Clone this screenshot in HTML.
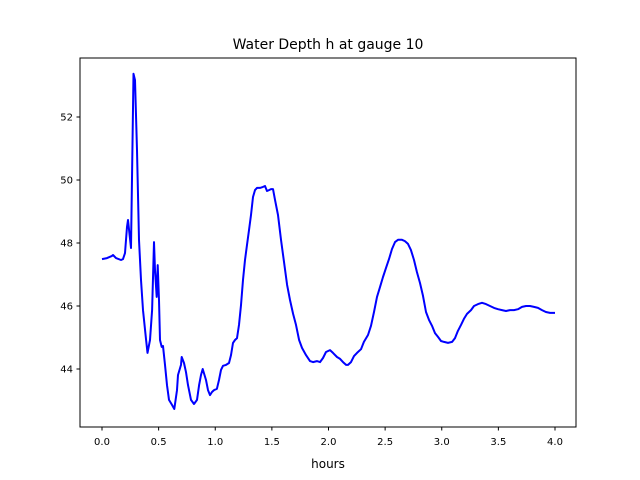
<!DOCTYPE html>
<html><head><meta charset="utf-8"><style>
body{margin:0;background:#fff;}
svg{display:block;font-family:"DejaVu Sans","Liberation Sans",sans-serif;}
</style></head><body>
<svg id="chart" width="640" height="480" viewBox="0 0 640 480">
<rect width="640" height="480" fill="#fff"/>
<text x="328" y="49" text-anchor="middle" font-size="14">Water Depth h at gauge 10</text>
<text x="328" y="468" text-anchor="middle" font-size="12">hours</text>
<g id="ticks"></g>
<path id="line" fill="none" stroke="#0000ff" stroke-width="2" stroke-linejoin="round"/>
<rect x="80" y="58" width="496" height="369" fill="none" stroke="#000" stroke-width="1"/>
</svg>
<script>
const hours=[0,.044,.088,.097,.124,.168,.185,.203,.221,.23,.256,.278,.291,.309,.327,.344,.362,.389,.402,.424,.442,.459,.468,.483,.492,.503,.512,.527,.539,.556,.574,.592,.618,.638,.662,.671,.698,.704,.724,.742,.759,.786,.812,.839,.857,.874,.889,.918,.936,.954,.971,.989,1.015,1.033,1.051,1.068,1.095,1.121,1.139,1.157,1.174,1.192,1.21,1.227,1.245,1.263,1.28,1.298,1.316,1.333,1.351,1.369,1.395,1.422,1.439,1.457,1.475,1.492,1.51,1.528,1.554,1.581,1.607,1.634,1.66,1.687,1.713,1.74,1.766,1.801,1.837,1.863,1.898,1.925,1.951,1.978,2.013,2.04,2.075,2.102,2.128,2.155,2.172,2.199,2.225,2.252,2.287,2.313,2.349,2.375,2.402,2.428,2.455,2.481,2.508,2.534,2.561,2.587,2.614,2.649,2.675,2.702,2.728,2.755,2.781,2.808,2.834,2.861,2.887,2.914,2.94,2.967,2.993,3.02,3.055,3.091,3.117,3.143,3.17,3.196,3.223,3.258,3.285,3.32,3.355,3.391,3.426,3.461,3.497,3.532,3.567,3.603,3.638,3.673,3.709,3.744,3.779,3.815,3.85,3.885,3.92,3.956,4.0];
const depth=[47.49,47.52,47.59,47.62,47.52,47.46,47.49,47.68,48.51,48.73,47.84,53.37,53.17,50.95,48.10,46.83,45.87,44.92,44.51,44.92,45.87,48.03,47.14,46.29,47.30,46.19,44.92,44.70,44.73,44.13,43.49,43.02,42.86,42.73,43.33,43.81,44.13,44.38,44.19,43.90,43.49,43.02,42.89,43.02,43.49,43.81,44.00,43.65,43.33,43.17,43.27,43.33,43.37,43.65,43.97,44.10,44.13,44.19,44.44,44.83,44.92,44.98,45.40,46.03,46.83,47.46,47.94,48.41,48.89,49.46,49.68,49.75,49.75,49.78,49.81,49.65,49.68,49.71,49.71,49.37,48.89,48.10,47.40,46.67,46.19,45.75,45.40,44.92,44.67,44.44,44.25,44.22,44.25,44.22,44.35,44.54,44.60,44.51,44.38,44.32,44.22,44.13,44.13,44.22,44.41,44.51,44.63,44.86,45.08,45.37,45.81,46.29,46.60,46.92,47.21,47.49,47.81,48.03,48.10,48.10,48.06,47.97,47.78,47.46,47.08,46.73,46.32,45.81,45.56,45.37,45.14,45.02,44.89,44.86,44.83,44.86,44.98,45.21,45.40,45.59,45.75,45.87,46.00,46.06,46.10,46.06,46.00,45.94,45.90,45.87,45.84,45.87,45.87,45.90,45.97,46.00,46.00,45.97,45.94,45.87,45.81,45.78,45.78];
const xTicks=[0,0.5,1,1.5,2,2.5,3,3.5,4];
const xTickLabels=["0.0","0.5","1.0","1.5","2.0","2.5","3.0","3.5","4.0"];
const yTicks=[44,46,48,50,52];
const yTickLabels=["44","46","48","50","52"];
const X=t=>102+t*113.25;
const Y=h=>369-(h-44)*31.5;
const NS="http://www.w3.org/2000/svg";
const g=document.getElementById('ticks');
function mk(tag,attrs){const e=document.createElementNS(NS,tag);for(const k in attrs)e.setAttribute(k,attrs[k]);return e;}
xTicks.forEach((t,i)=>{
  const l=mk('line',{x1:X(t),x2:X(t),y1:427,y2:430.5,stroke:'#000','stroke-width':1});
  
  
  g.appendChild(l);
  const tx=mk('text',{x:X(t),y:445,'text-anchor':'middle','font-size':10});
  
  
  tx.textContent=xTickLabels[i];g.appendChild(tx);
});
yTicks.forEach((h,i)=>{
  const l=mk('line',{x1:76.5,x2:80,y1:Y(h),y2:Y(h),stroke:'#000','stroke-width':1});
  
  
  g.appendChild(l);
  const tx=mk('text',{x:73,y:Y(h)+3.5,'text-anchor':'end','font-size':10});
  
  
  tx.textContent=yTickLabels[i];g.appendChild(tx);
});
document.getElementById('line').setAttribute('d',hours.map((t,i)=>(i?'L':'M')+X(t).toFixed(1)+','+Y(depth[i]).toFixed(1)).join(''));
</script>
</body></html>
